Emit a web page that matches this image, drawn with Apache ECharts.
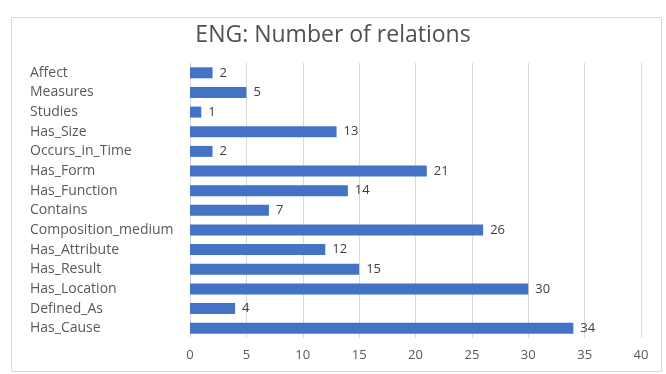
<!DOCTYPE html>
<html>
<head>
<meta charset="utf-8">
<script src="https://cdn.jsdelivr.net/npm/echarts@6/dist/echarts.min.js"></script>
<style>
  html, body { margin: 0; padding: 0; background: #ffffff; }
  #chart { width: 666px; height: 374px; }
</style>
</head>
<body>
<div id="chart"></div>
<script>
// Relation types, listed top to bottom
const categories = [
  'Affect', 'Measures', 'Studies', 'Has_Size', 'Occurs_in_Time', 'Has_Form',
  'Has_Function', 'Contains', 'Composition_medium', 'Has_Attribute',
  'Has_Result', 'Has_Location', 'Defined_As', 'Has_Cause'
];
// Number of relations per type
const counts = [2, 5, 1, 13, 2, 21, 14, 7, 26, 12, 15, 30, 4, 34];
// Value axis ticks
const axisMin = 0;
const axisMax = 40;
const axisStep = 5;

const chart = echarts.init(document.getElementById('chart'), null, { renderer: 'canvas' });
const fontFamily = '"Open Sans", "DejaVu Sans", sans-serif';

chart.setOption({
  backgroundColor: '#ffffff',
  animation: false,
  title: {
    text: 'ENG: Number of relations',
    left: 'center',
    top: 19,
    textStyle: { fontFamily, fontSize: 23, fontWeight: 'normal', color: '#505050' }
  },
  graphic: [{
    type: 'rect',
    shape: { x: 11.5, y: 17.5, width: 650, height: 354 },
    style: { fill: 'none', stroke: '#d9d9d9', lineWidth: 1 },
    silent: true
  }],
  grid: { left: 190, right: 25, top: 63, bottom: 36 },
  xAxis: {
    type: 'value',
    min: axisMin,
    max: axisMax,
    interval: axisStep,
    axisLine: { show: false },
    axisTick: { show: false },
    splitLine: { show: true, lineStyle: { color: '#d9d9d9', width: 1 } },
    axisLabel: { fontFamily, fontSize: 13, color: '#595959', margin: 11 }
  },
  yAxis: {
    type: 'category',
    data: categories,
    inverse: true,
    axisLine: { show: false },
    axisTick: { show: false },
    axisLabel: { fontFamily, fontSize: 14, color: '#595959', align: 'left', margin: 160 }
  },
  series: [{
    type: 'bar',
    data: counts,
    barWidth: 11,
    itemStyle: { color: '#4472c4' },
    label: {
      show: true,
      position: 'right',
      distance: 7,
      fontFamily,
      fontSize: 13,
      color: '#404040'
    }
  }]
});
</script>
</body>
</html>
